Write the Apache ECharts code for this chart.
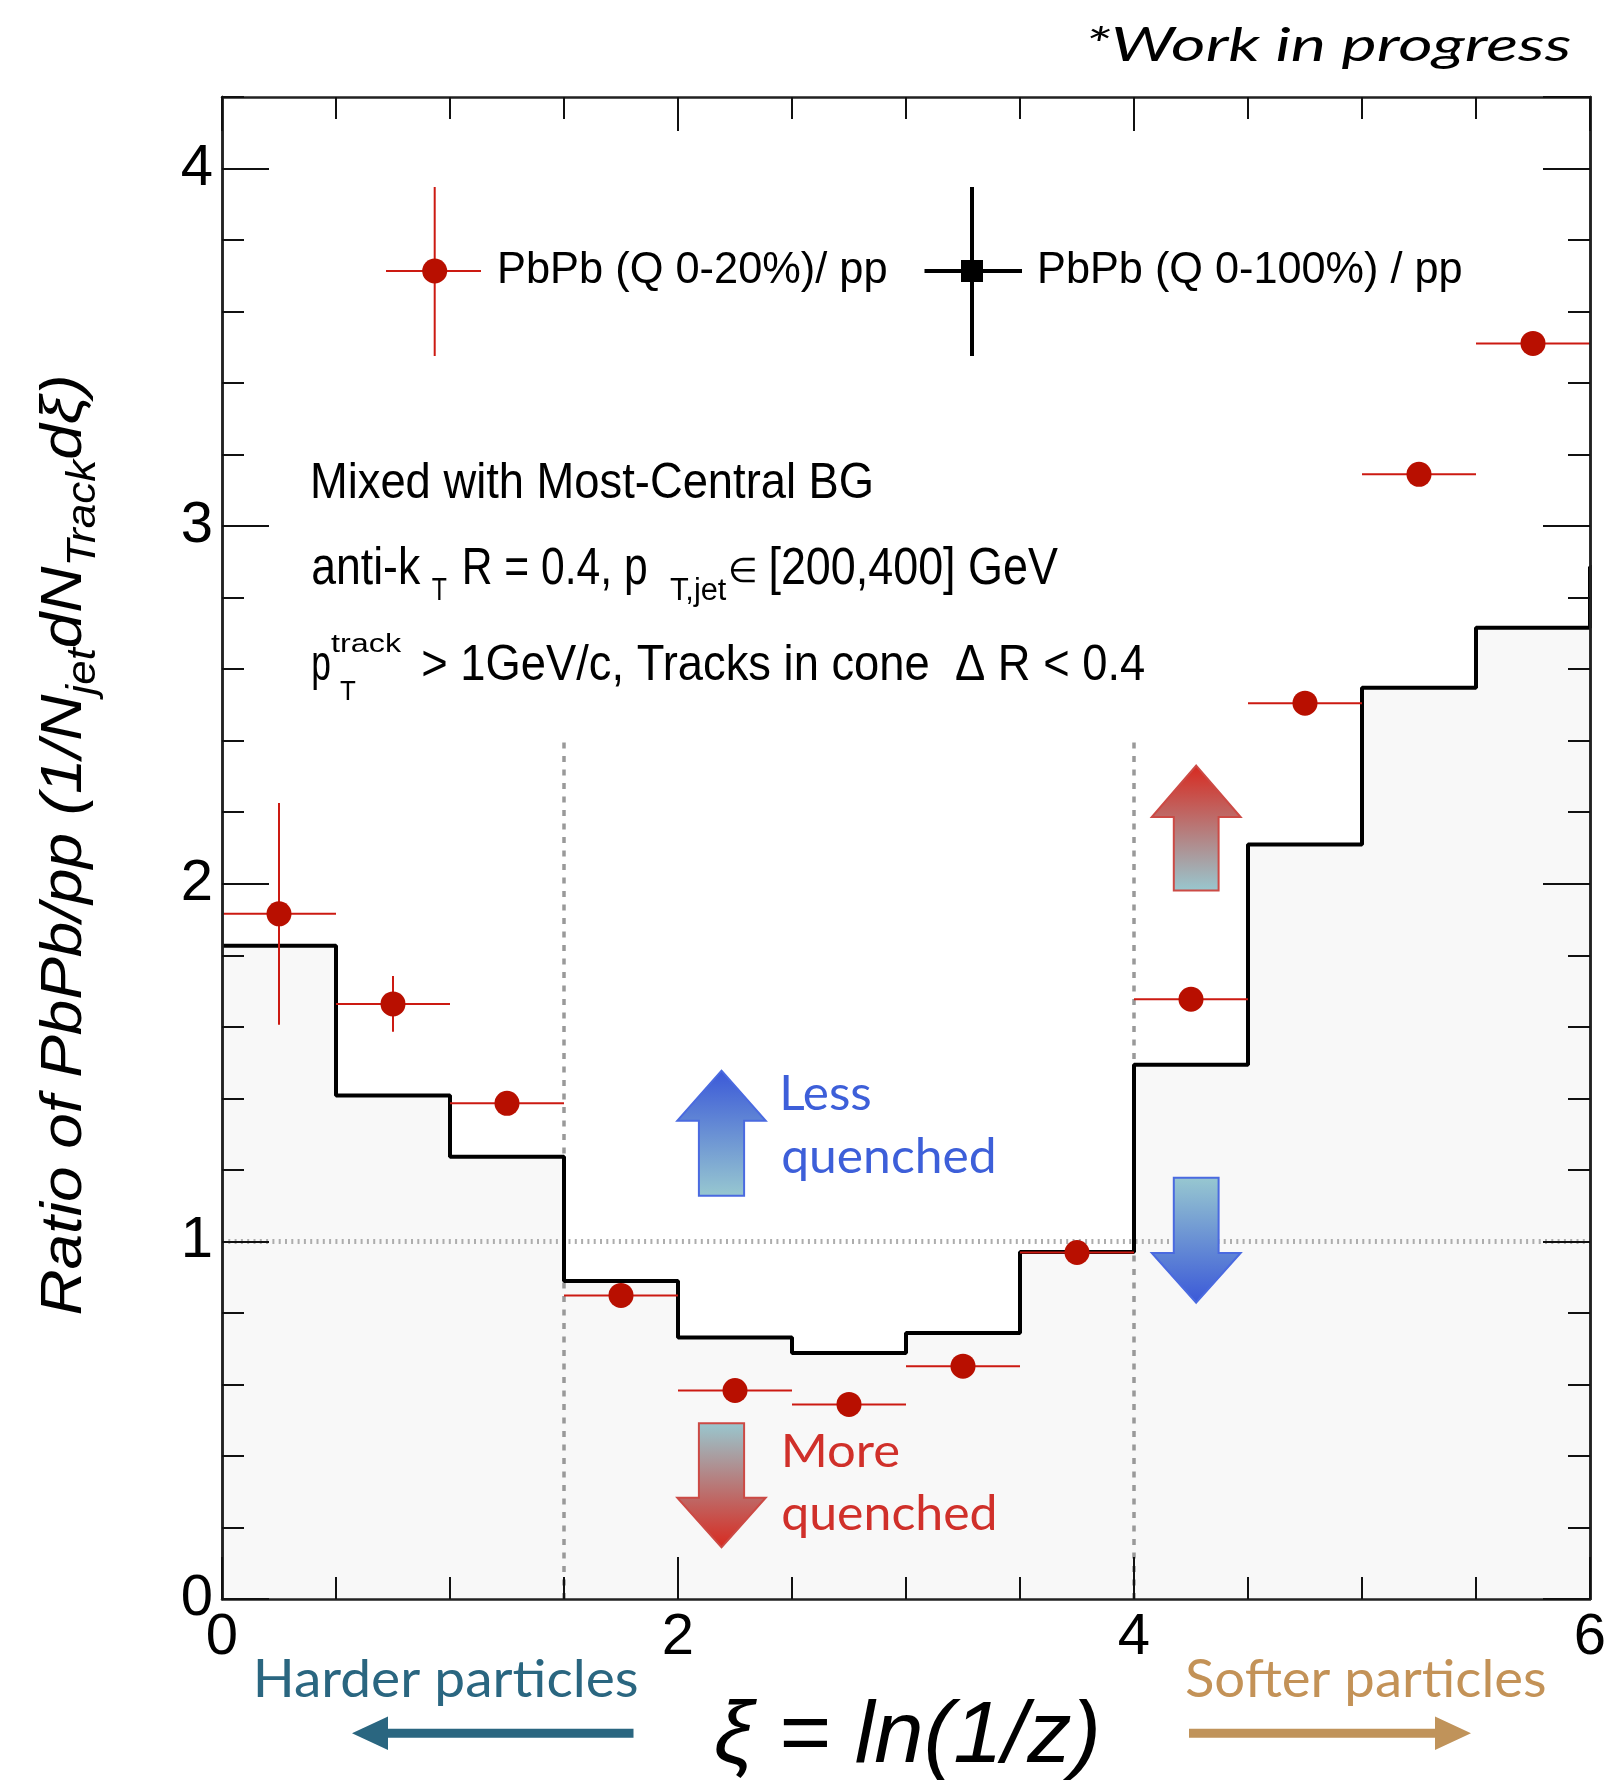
<!DOCTYPE html>
<html>
<head>
<meta charset="utf-8">
<script src="https://cdn.jsdelivr.net/npm/echarts@6/dist/echarts.min.js"></script>
<style>
  html, body { margin: 0; padding: 0; background: #ffffff; }
  #chart { width: 1610px; height: 1782px; }
</style>
</head>
<body>
<div id="chart"></div>
<script>
// ---- data -------------------------------------------------------------
// lower edges of the xi = ln(1/z) bins (bin width 0.5)
const binLowEdges = [0, 0.5, 1, 1.5, 2, 2.5, 3, 3.5, 4, 4.5, 5, 5.5];
const binWidth = 0.5;

// PbPb (Q 0-100%) / pp, drawn as a filled histogram
const ratioAllQ = [1.827, 1.408, 1.237, 0.889, 0.731, 0.688, 0.744, 0.970, 1.494, 2.110, 2.548, 2.716];
// first bin above xi = 6 (only its rising edge shows at the frame)
const ratioAllQNext = 2.886;

// PbPb (Q 0-20%) / pp, points with statistical errors
const ratioTopQ = [1.916, 1.664, 1.386, 0.849, 0.583, 0.544, 0.651, 0.969, 1.677, 2.505, 3.145, 3.511];
const ratioTopQErr = [0.31, 0.078, 0.025, 0.02, 0.02, 0.02, 0.02, 0.02, 0.025, 0.03, 0.03, 0.03];

// axis ticks
const xMajorTicks = [0, 2, 4, 6];
const xMinorStep = 0.5;
const yMajorTicks = [0, 1, 2, 3, 4];
const yMinorStep = 0.2;
const yMax = 4.2;

// guide lines
const unityLevel = 1;
const regionEdges = [1.5, 4];
const regionEdgeTop = 2.4;

// ---- text helpers -----------------------------------------------------
const mctx = document.createElement('canvas').getContext('2d');
function cssFont(st, wt, size, fam) { return st + ' ' + wt + ' ' + size + 'px "' + fam + '"'; }

// one text run placed by ink box: left x0, right x1 (optional), baseline, cap height or size
function textRun(p) {
  const st = p.style || 'normal', wt = p.weight || 'normal', fam = p.family || 'Liberation Sans';
  mctx.textBaseline = 'alphabetic';
  mctx.font = cssFont(st, wt, 100, fam);
  const capRef = mctx.measureText('H').actualBoundingBoxAscent / 100;
  const size = p.size || p.cap / capRef;
  mctx.font = cssFont(st, wt, size, fam);
  const m = mctx.measureText(p.text);
  const hA = mctx.measureText('H').actualBoundingBoxAscent;
  mctx.textBaseline = 'middle';
  const hM = mctx.measureText('H').actualBoundingBoxAscent;
  mctx.textBaseline = 'alphabetic';
  const midOff = hA - hM;
  let sx = p.sx || 1;
  let ox = p.x0;
  if (p.x1 != null) {
    const ink = m.actualBoundingBoxLeft + m.actualBoundingBoxRight;
    sx = (p.x1 - p.x0) / ink;
    ox = p.x0 + m.actualBoundingBoxLeft * sx;
  }
  return {
    el: {
      type: 'text', x: ox, y: p.base, scaleX: sx, scaleY: p.sy || 1, z: 100,
      style: {
        text: p.text, x: 0, y: -midOff, fill: p.color || '#000',
        fontSize: size, fontFamily: fam, fontStyle: st, fontWeight: wt,
        align: 'left', verticalAlign: 'middle'
      }
    },
    advance: m.width, size: size, midOff: midOff
  };
}

// a flowing run of pieces (with sub/superscripts) in local coordinates
function flowRun(parts, fam, st, color) {
  let cx = 0;
  const els = [];
  parts.forEach(function (q) {
    const r = textRun({ text: q.t, size: q.s, family: fam, style: st, x0: cx, base: q.dy || 0, color: color });
    els.push(r.el);
    cx += r.advance;
  });
  return { els: els, width: cx };
}

// vertical block arrow
function vArrow(cx, yTip, yHead, yEnd, headHalf, shaftHalf, colTip, colEnd, stroke) {
  const up = yTip < yEnd;
  const pts = [[cx, yTip], [cx + headHalf, yHead], [cx + shaftHalf, yHead], [cx + shaftHalf, yEnd],
               [cx - shaftHalf, yEnd], [cx - shaftHalf, yHead], [cx - headHalf, yHead]];
  const top = up ? colTip : colEnd, bottom = up ? colEnd : colTip;
  return {
    type: 'polygon', z: 90, shape: { points: pts },
    style: {
      fill: { type: 'linear', x: 0, y: 0, x2: 0, y2: 1, colorStops: [{ offset: 0, color: top }, { offset: 1, color: bottom }] },
      stroke: stroke, lineWidth: 2
    }
  };
}
function hArrow(xTip, xHead, xEnd, yc, headHalf, shaftHalf, color) {
  return {
    type: 'polygon', z: 90,
    shape: { points: [[xTip, yc], [xHead, yc - headHalf], [xHead, yc - shaftHalf], [xEnd, yc - shaftHalf],
                      [xEnd, yc + shaftHalf], [xHead, yc + shaftHalf], [xHead, yc + headHalf]] },
    style: { fill: color }
  };
}

// ---- annotation graphics ----------------------------------------------
const graphics = [];
function add(r) { graphics.push(r.el); }

add(textRun({ text: '*Work in progress', family: 'Lato', style: 'italic', x0: 1089, x1: 1570, base: 61, cap: 33.5, color: '#000' }));

// legend
const redBar = { stroke: '#cc1a12', lineWidth: 2 };
const blackBar = { stroke: '#000', lineWidth: 4 };
graphics.push({ type: 'line', z: 95, shape: { x1: 386, y1: 271, x2: 481, y2: 271 }, style: redBar });
graphics.push({ type: 'line', z: 95, shape: { x1: 434.7, y1: 187, x2: 434.7, y2: 356 }, style: redBar });
graphics.push({ type: 'circle', z: 96, shape: { cx: 434.7, cy: 271, r: 12.5 }, style: { fill: '#b80f00' } });
add(textRun({ text: 'PbPb (Q 0-20%)/ pp', x0: 500, x1: 886, base: 283, cap: 30.6 }));
graphics.push({ type: 'line', z: 95, shape: { x1: 924.5, y1: 271, x2: 1022, y2: 271 }, style: blackBar });
graphics.push({ type: 'line', z: 95, shape: { x1: 972, y1: 187, x2: 972, y2: 356 }, style: blackBar });
graphics.push({ type: 'rect', z: 96, shape: { x: 961, y: 260, width: 22, height: 22 }, style: { fill: '#000' } });
add(textRun({ text: 'PbPb (Q 0-100%) / pp', x0: 1040, x1: 1461, base: 283, cap: 30.6 }));

// selection description
add(textRun({ text: 'Mixed with Most-Central BG', x0: 313.5, x1: 871, base: 498.3, cap: 35 }));
add(textRun({ text: 'anti-k', x0: 313, x1: 421, base: 584.3, cap: 36 }));
add(textRun({ text: 'T', x0: 431.7, x1: 446.7, base: 600, cap: 21.7 }));
add(textRun({ text: 'R = 0.4, p', x0: 465, x1: 646, base: 584.3, cap: 36 }));
add(textRun({ text: 'T,jet', x0: 670, x1: 726.6, base: 600, cap: 21.7 }));
add(textRun({ text: '\u2208', x0: 730, x1: 755, base: 582, size: 34 }));
add(textRun({ text: '[200,400] GeV', x0: 771, x1: 1058, base: 584.3, cap: 36 }));
add(textRun({ text: 'p', x0: 313.3, x1: 330, base: 680, cap: 35 }));
add(textRun({ text: 'track', x0: 331, x1: 401.7, base: 651.7, size: 25 }));
add(textRun({ text: 'T', x0: 340, x1: 356, base: 700, cap: 19 }));
add(textRun({ text: '> 1GeV/c, Tracks in cone  \u0394 R < 0.4', x0: 423, x1: 1144, base: 680, cap: 34 }));

// quenching arrows and labels
const cBlue = '#3a58d8', cTeal = '#98c8d0', cRed = '#d8291f';
graphics.push(vArrow(721.5, 1070.7, 1120.7, 1195.7, 44.2, 22.6, cBlue, cTeal, '#4a6ae0'));
graphics.push(vArrow(721.5, 1547.3, 1497.7, 1423.3, 44.2, 22.6, cRed, cTeal, '#cc4a45'));
graphics.push(vArrow(1196.2, 765.6, 817, 890.6, 44.4, 22.4, cRed, cTeal, '#cc4a45'));
graphics.push(vArrow(1196.2, 1302.7, 1253, 1177.7, 44.4, 22.4, cBlue, cTeal, '#4a6ae0'));
add(textRun({ text: 'Less', family: 'Lato', x0: 783.3, x1: 870, base: 1110, cap: 35, color: '#3d5fd9' }));
add(textRun({ text: 'quenched', family: 'Lato', x0: 783.3, x1: 993.3, base: 1172.7, size: 48.5, color: '#3d5fd9' }));
add(textRun({ text: 'More', family: 'Lato', x0: 785, x1: 898.3, base: 1466.7, cap: 34, color: '#d0302a' }));
add(textRun({ text: 'quenched', family: 'Lato', x0: 783.3, x1: 994.3, base: 1530, size: 48.5, color: '#d0302a' }));

// particle hardness hints below the axis
add(textRun({ text: 'Harder particles', family: 'Lato', x0: 257, x1: 637, base: 1696.7, cap: 38, color: '#2a6680' }));
add(textRun({ text: 'Softer particles', family: 'Lato', x0: 1186, x1: 1545, base: 1696.7, cap: 38, color: '#c39257' }));
graphics.push(hArrow(352, 388, 633.5, 1733.3, 16.7, 4.5, '#2a6680'));
graphics.push(hArrow(1471, 1435, 1189, 1733.3, 16.7, 4.5, '#c0935a'));

// axis titles
add(textRun({ text: '\u03BE = ln(1/z)', style: 'italic', x0: 716, x1: 1096, base: 1762, cap: 60 }));
const yTitle = flowRun([
  { t: 'Ratio of PbPb/pp (1/N', s: 58 },
  { t: 'jet', s: 40, dy: 14 },
  { t: 'dN', s: 58 },
  { t: 'Track', s: 40, dy: 14 },
  { t: 'd\u03BE)', s: 58 }
], 'Liberation Sans', 'italic', '#000');
yTitle.els.forEach(function (e) { e.x -= yTitle.width / 2; });
graphics.push({
  type: 'group', x: 81, y: 845, rotation: Math.PI / 2, scaleX: 941 / yTitle.width,
  children: yTitle.els
});

// ---- chart ------------------------------------------------------------
const histData = binLowEdges.map(function (x, i) { return [x, ratioAllQ[i]]; })
  .concat([[binLowEdges[binLowEdges.length - 1] + binWidth, ratioAllQNext],
           [binLowEdges[binLowEdges.length - 1] + 2 * binWidth, ratioAllQNext]]);
const xMin = xMajorTicks[0], xMax = xMajorTicks[xMajorTicks.length - 1];

const frameLine = { show: true, onZero: false, lineStyle: { color: '#222', width: 2.5 } };
const tickStyle = { color: '#111', width: 2 };
function xAx(pos, len, labels) {
  return {
    type: 'value', position: pos, min: xMin, max: xMax, interval: xMajorTicks[1] - xMajorTicks[0], z: 20,
    axisLine: frameLine,
    axisTick: { show: true, inside: true, length: len, lineStyle: tickStyle },
    minorTick: { show: true, splitNumber: (xMajorTicks[1] - xMajorTicks[0]) / xMinorStep, length: 22, lineStyle: tickStyle },
    axisLabel: labels ? { show: true, fontSize: 58, fontFamily: 'Liberation Sans', color: '#000', margin: 10 } : { show: false },
    splitLine: { show: false }, minorSplitLine: { show: false }
  };
}
function yAx(pos, step, len, labels) {
  return {
    type: 'value', position: pos, min: yMajorTicks[0], max: yMax, interval: step, z: 20,
    axisLine: frameLine,
    axisTick: { show: true, inside: true, length: len, lineStyle: tickStyle },
    axisLabel: labels ? {
      show: true, fontSize: 58, fontFamily: 'Liberation Sans', color: '#000', margin: 9,
      showMaxLabel: false,
      formatter: function (v) { return yMajorTicks.indexOf(v) >= 0 ? String(v) : ''; }
    } : { show: false },
    splitLine: { show: false }
  };
}

const chart = echarts.init(document.getElementById('chart'), null, { renderer: 'canvas' });
chart.setOption({
  animation: false,
  backgroundColor: '#ffffff',
  grid: { left: 222, right: 20, top: 97, bottom: 183, containLabel: false, outerBoundsMode: 'none', show: false },
  xAxis: [xAx('bottom', 42, true), xAx('top', 34, false)],
  yAxis: [
    yAx('left', yMajorTicks[1] - yMajorTicks[0], 47, true),
    yAx('left', yMinorStep, 22, false),
    yAx('right', yMajorTicks[1] - yMajorTicks[0], 47, false),
    yAx('right', yMinorStep, 22, false)
  ],
  series: [
    { // histogram fill
      type: 'line', step: 'end', data: histData, symbol: 'none', z: 1, silent: true,
      lineStyle: { width: 0, opacity: 0 }, areaStyle: { color: '#f8f8f8', opacity: 1 }
    },
    { // unity reference
      type: 'line', data: [[xMin, unityLevel], [xMax, unityLevel]], symbol: 'none', z: 2, silent: true,
      lineStyle: { color: '#adadad', width: 5, type: [2, 4.3] }
    },
    { // region separators
      type: 'line', data: [[regionEdges[0], 0], [regionEdges[0], regionEdgeTop]], symbol: 'none', z: 2, silent: true,
      lineStyle: { color: '#999', width: 3.5, type: [6, 7.5] }
    },
    {
      type: 'line', data: [[regionEdges[1], 0], [regionEdges[1], regionEdgeTop]], symbol: 'none', z: 2, silent: true,
      lineStyle: { color: '#999', width: 3.5, type: [6, 7.5] }
    },
    { // histogram outline
      type: 'line', step: 'end', data: histData, symbol: 'none', z: 3, silent: true,
      lineStyle: { color: '#000', width: 4 }
    },
    { // error bars of the 0-20% points
      type: 'custom', z: 4, silent: true,
      data: binLowEdges.map(function (x, i) { return [x, x + binWidth, ratioTopQ[i], ratioTopQErr[i]]; }),
      encode: { x: [0, 1], y: [2] },
      renderItem: function (params, api) {
        const lo = api.value(0), hi = api.value(1), y = api.value(2), e = api.value(3);
        const xc = (lo + hi) / 2;
        const pL = api.coord([lo, y]), pR = api.coord([hi, y]);
        const pT = api.coord([xc, y + e]), pB = api.coord([xc, y - e]);
        const st = { stroke: '#cc1a12', lineWidth: 2 };
        return {
          type: 'group', children: [
            { type: 'line', shape: { x1: pL[0], y1: pL[1], x2: pR[0], y2: pR[1] }, style: st },
            { type: 'line', shape: { x1: pT[0], y1: pT[1], x2: pB[0], y2: pB[1] }, style: st }
          ]
        };
      }
    },
    { // 0-20% markers
      type: 'scatter', z: 5, silent: true, symbol: 'circle', symbolSize: 25,
      itemStyle: { color: '#b80f00', opacity: 1 },
      data: binLowEdges.map(function (x, i) { return [x + binWidth / 2, ratioTopQ[i]]; })
    }
  ],
  graphic: graphics
});
</script>
</body>
</html>
